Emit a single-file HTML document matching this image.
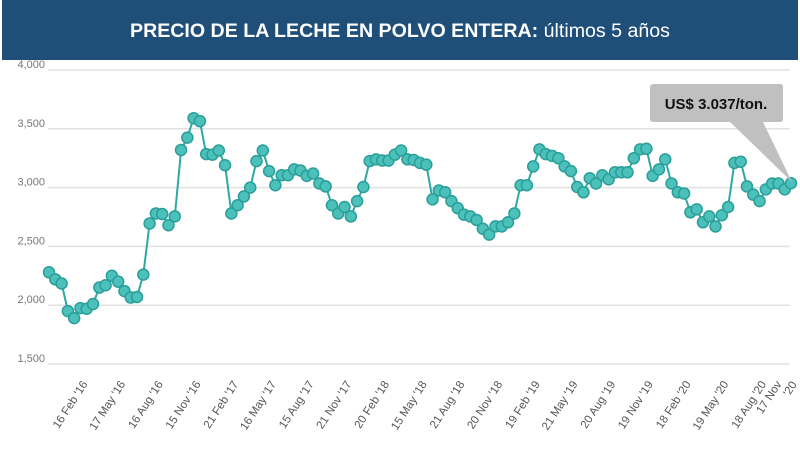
<!DOCTYPE html>
<html><head><meta charset="utf-8"><style>
body{margin:0;width:800px;height:450px;background:#fff;overflow:hidden;font-family:"Liberation Sans",sans-serif}
</style></head><body>
<svg id="chart" width="800" height="450">
<rect x="2" y="0" width="796" height="60" fill="#1f4e79"/>
<text x="400" y="37" text-anchor="middle" fill="#fff" font-size="19" textLength="540" lengthAdjust="spacingAndGlyphs"><tspan font-weight="bold">PRECIO DE LA LECHE EN POLVO ENTERA:</tspan> últimos 5 años</text>
<g id="grid"></g><g id="xlabels"></g>
<path id="line" fill="none" stroke="#2fa8a3" stroke-width="2"/>
<g id="pts"></g>
<g>
<path d="M654,84 H780 Q783,84 783,87 V119 Q783,122 780,122 H763 L792,182 L730,122 H654 Q650,122 650,119 V87 Q650,84 654,84 Z" fill="#c0c0c0"/>
<text x="716" y="109" text-anchor="middle" font-size="15" font-weight="bold" fill="#111">US$ 3.037/ton.</text>
</g>
</svg>
<script>
const values=[2280,2220,2185,1950,1890,1975,1970,2010,2150,2170,2250,2200,2120,2065,2070,2260,2695,2780,2775,2680,2755,3320,3425,3590,3565,3285,3280,3315,3190,2780,2850,2925,3000,3225,3315,3140,3020,3105,3105,3155,3145,3100,3120,3035,3010,2850,2780,2835,2755,2885,3005,3225,3240,3230,3230,3280,3315,3240,3235,3210,3195,2900,2975,2960,2885,2825,2770,2755,2725,2650,2600,2670,2670,2705,2780,3020,3020,3180,3325,3285,3270,3250,3180,3140,3005,2960,3080,3035,3105,3070,3130,3130,3130,3250,3325,3330,3100,3155,3240,3035,2960,2950,2790,2815,2705,2755,2670,2765,2835,3210,3220,3010,2940,2885,2985,3035,3035,2985,3037];
const yTicks=[1500,2000,2500,3000,3500,4000];
const yTickLabels=["1,500","2,000","2,500","3,000","3,500","4,000"];
const xLabels=["16 Feb '16","17 May '16","16 Aug '16","15 Nov '16","21 Feb '17","16 May '17","15 Aug '17","21 Nov '17","20 Feb '18","15 May '18","21 Aug '18","20 Nov '18","19 Feb '19","21 May '19","20 Aug '19","19 Nov '19","18 Feb '20","19 May '20","18 Aug '20"];
const NS="http://www.w3.org/2000/svg";
const x0=49,x1=791,yTop=70,yBot=364,vMin=1500,vMax=4000;
const xs=i=>x0+(x1-x0)*i/(values.length-1);
const ys=v=>yBot-(v-vMin)/(vMax-vMin)*(yBot-yTop);
const g=document.getElementById('grid');
yTicks.forEach((t,i)=>{
 const l=document.createElementNS(NS,'line');
 l.setAttribute('x1',48);l.setAttribute('x2',790);l.setAttribute('y1',ys(t));l.setAttribute('y2',ys(t));
 l.setAttribute('stroke','#e0e0e0');l.setAttribute('stroke-width','1.5');
 
 
 g.appendChild(l);
 const tx=document.createElementNS(NS,'text');
 tx.setAttribute('x',45);tx.setAttribute('y',ys(t)-2);tx.setAttribute('text-anchor','end');
 tx.setAttribute('font-size','11');tx.setAttribute('fill','#777');tx.textContent=yTickLabels[i];
 
 
 g.appendChild(tx);
});
const xl=document.getElementById('xlabels');
xLabels.forEach((s,i)=>{
 const x=88+i*37.7,y=384;
 const tx=document.createElementNS(NS,'text');
 tx.setAttribute('transform',`translate(${x},${y}) rotate(-57)`);
 tx.setAttribute('text-anchor','end');tx.setAttribute('font-size','11.5');tx.setAttribute('fill','#555');
 tx.textContent=s;
 
 
 xl.appendChild(tx);
});
const last=document.createElementNS(NS,'text');
last.setAttribute('transform','translate(782,384) rotate(-57)');
last.setAttribute('text-anchor','end');last.setAttribute('font-size','11.5');last.setAttribute('fill','#555');


const t1=document.createElementNS(NS,'tspan');t1.setAttribute('x','0');t1.textContent='17 Nov';
const t2=document.createElementNS(NS,'tspan');t2.setAttribute('x','8');t2.setAttribute('dy','13');t2.textContent="'20";
last.appendChild(t1);last.appendChild(t2);
xl.appendChild(last);
document.getElementById('line').setAttribute('d',values.map((v,i)=>(i?'L':'M')+xs(i).toFixed(1)+','+ys(v).toFixed(1)).join(''));
const p=document.getElementById('pts');
values.forEach((v,i)=>{
 const c=document.createElementNS(NS,'circle');
 c.setAttribute('cx',xs(i));c.setAttribute('cy',ys(v));c.setAttribute('r',5.5);
 c.setAttribute('fill','#4cc0bb');c.setAttribute('stroke','#2a9e99');c.setAttribute('stroke-width','1.5');
 
 
 p.appendChild(c);
});
</script>
</body></html>
